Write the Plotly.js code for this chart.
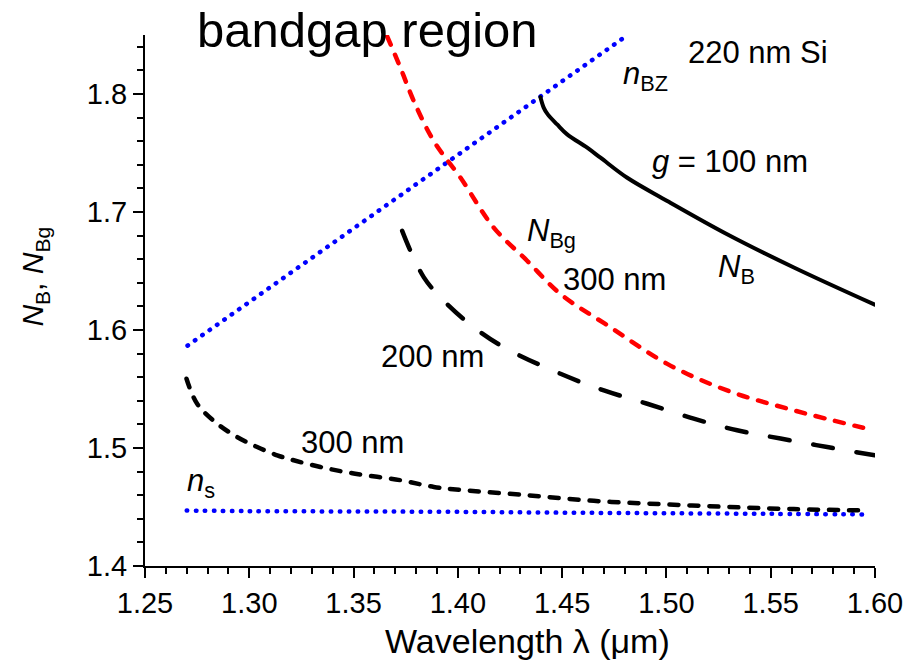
<!DOCTYPE html>
<html>
<head>
<meta charset="utf-8">
<script src="https://cdn.plot.ly/plotly-3.0.1.min.js"></script>
<style>
  html, body { margin: 0; padding: 0; background: #fff; }
  #chart { width: 921px; height: 666px; }
</style>
</head>
<body>
<div id="chart"></div>
<script>
// ---- data ----
const nBZ_x = [1.2704, 1.479];
const nBZ_y = [1.5868, 1.847];

const ns_x = [1.27, 1.30, 1.35, 1.40, 1.45, 1.50, 1.55, 1.595];
const ns_y = [1.447, 1.4465, 1.4462, 1.4459, 1.4452, 1.4447, 1.4442, 1.4437];

const NB100_x = [1.4396, 1.4412, 1.4431, 1.4476, 1.4524, 1.4620, 1.4684, 1.4812, 1.5004, 1.5291, 1.5611, 1.5999];
const NB100_y = [1.7973, 1.7883, 1.7827, 1.7742, 1.7658, 1.7545, 1.7460, 1.7290, 1.7094, 1.6812, 1.6530, 1.6215];

const NBg300_x = [1.3661, 1.3725, 1.3789, 1.3885, 1.4013, 1.4172, 1.4332, 1.4492, 1.4732, 1.5004, 1.5291, 1.5611, 1.5994];
const NBg300_y = [1.8489, 1.8221, 1.7939, 1.7600, 1.7290, 1.6868, 1.6587, 1.6305, 1.6023, 1.5713, 1.5488, 1.5319, 1.5150];

const NB200_x = [1.3733, 1.3773, 1.3837, 1.3901, 1.4050, 1.4220, 1.4492, 1.4700, 1.4908, 1.5131, 1.5339, 1.5547, 1.5771, 1.5999];
const NB200_y = [1.6840, 1.6670, 1.6446, 1.6305, 1.6060, 1.5854, 1.5629, 1.5488, 1.5375, 1.5249, 1.5150, 1.5080, 1.5008, 1.4938];

const NB300_x = [1.2699, 1.2750, 1.2846, 1.2942, 1.3038, 1.3134, 1.3213, 1.3341, 1.3501, 1.3725, 1.3885, 1.4013, 1.4332, 1.4652, 1.4972, 1.5291, 1.5611, 1.5951];
const NB300_y = [1.5587, 1.5375, 1.5206, 1.5093, 1.5008, 1.4938, 1.4896, 1.4839, 1.4784, 1.4727, 1.4670, 1.4645, 1.4600, 1.4552, 1.4524, 1.4501, 1.4482, 1.4471];

const xTickVals = [1.25, 1.30, 1.35, 1.40, 1.45, 1.50, 1.55, 1.60];
const yTickVals = [1.4, 1.5, 1.6, 1.7, 1.8];

const FONT = "Arial, 'Liberation Sans', sans-serif";

const traces = [
  {x: nBZ_x, y: nBZ_y, mode: 'lines', line: {color: '#0000ff', width: 4.5, dash: '0.5px,8.5px'}, name: 'nBZ'},
  {x: ns_x, y: ns_y, mode: 'lines', line: {color: '#0000ff', width: 4.5, dash: '0.5px,8.5px', shape: 'spline'}, name: 'ns'},
  {x: NB100_x, y: NB100_y, mode: 'lines', line: {color: '#000000', width: 4, shape: 'spline', smoothing: 1}, name: 'NB 100'},
  {x: NBg300_x, y: NBg300_y, mode: 'lines', line: {color: '#ff0000', width: 4.5, dash: '9px,11px', shape: 'spline', smoothing: 1}, name: 'NBg 300'},
  {x: NB200_x, y: NB200_y, mode: 'lines', line: {color: '#000000', width: 4.5, dash: '20px,24px', shape: 'spline', smoothing: 1}, name: 'NB 200'},
  {x: NB300_x, y: NB300_y, mode: 'lines', line: {color: '#000000', width: 4.5, dash: '9px,11px', shape: 'spline', smoothing: 1}, name: 'NB 300'}
];

function ann(x, y, text, size, xanchor) {
  return {x: x, y: y, xref: 'x', yref: 'y', text: text, showarrow: false,
          xanchor: xanchor || 'center', yanchor: 'middle',
          font: {family: FONT, size: size, color: '#000'}};
}

const annotations = [
  {x: 0.3048, y: 1.0094, xref: 'paper', yref: 'paper', text: 'bandgap region', showarrow: false,
   xanchor: 'center', yanchor: 'middle', font: {family: FONT, size: 49, color: '#000'}},
  {x: 0.524, y: -0.1412, xref: 'paper', yref: 'paper', text: 'Wavelength \u03bb (\u03bcm)', showarrow: false,
   xanchor: 'center', yanchor: 'middle', font: {family: FONT, size: 34, color: '#000'}},
  {x: -0.1507, y: 0.545, xref: 'paper', yref: 'paper', text: '<i>N</i><sub>B</sub>, <i>N</i><sub>Bg</sub>', showarrow: false,
   textangle: -90, xanchor: 'center', yanchor: 'middle', font: {family: FONT, size: 30, color: '#000'}},
  ann(1.5441, 1.8353, '220 nm Si', 31),
  ann(1.478, 1.815, '<i>n</i><sub>BZ</sub>', 31, 'left'),
  ann(1.5305, 1.7424, '<i>g</i> = 100 nm', 31),
  ann(1.4324, 1.682, '<i>N</i><sub>Bg</sub>', 31, 'left'),
  ann(1.4749, 1.6426, '300 nm', 31),
  ann(1.524, 1.652, '<i>N</i><sub>B</sub>', 31, 'left'),
  ann(1.3878, 1.5775, '200 nm', 31),
  ann(1.3495, 1.5048, '300 nm', 31),
  ann(1.2694, 1.470, '<i>n</i><sub>s</sub>', 31, 'left')
];

const layout = {
  width: 921, height: 666,
  margin: {l: 145, r: 46, t: 35, b: 100, pad: 0},
  paper_bgcolor: '#fff', plot_bgcolor: '#fff',
  showlegend: false,
  font: {family: FONT, color: '#000'},
  xaxis: {
    range: [1.25, 1.60], showgrid: false, zeroline: false,
    showline: true, linecolor: '#000', linewidth: 2, mirror: false,
    ticks: 'outside', ticklen: 10, tickwidth: 2, tickcolor: '#000',
    tickvals: xTickVals, tickformat: '.2f',
    tickfont: {family: FONT, size: 29, color: '#000'},
    minor: {ticks: 'outside', ticklen: 6, tickwidth: 2, tickcolor: '#000', dtick: 0.01, tick0: 1.25, showgrid: false}
  },
  yaxis: {
    range: [1.4, 1.85], showgrid: false, zeroline: false,
    showline: true, linecolor: '#000', linewidth: 2, mirror: false,
    ticks: 'outside', ticklen: 10, tickwidth: 2, tickcolor: '#000',
    tickvals: yTickVals, tickformat: '.1f',
    tickfont: {family: FONT, size: 29, color: '#000'},
    minor: {ticks: 'outside', ticklen: 6, tickwidth: 2, tickcolor: '#000', dtick: 0.02, tick0: 1.4, showgrid: false}
  },
  annotations: annotations
};

Plotly.newPlot('chart', traces, layout, {displayModeBar: false, staticPlot: true}).then(function () {
  document.querySelectorAll('.scatterlayer .trace path.js-line').forEach(function (p) {
    p.style.strokeLinecap = 'round';
  });
});
</script>
</body>
</html>
